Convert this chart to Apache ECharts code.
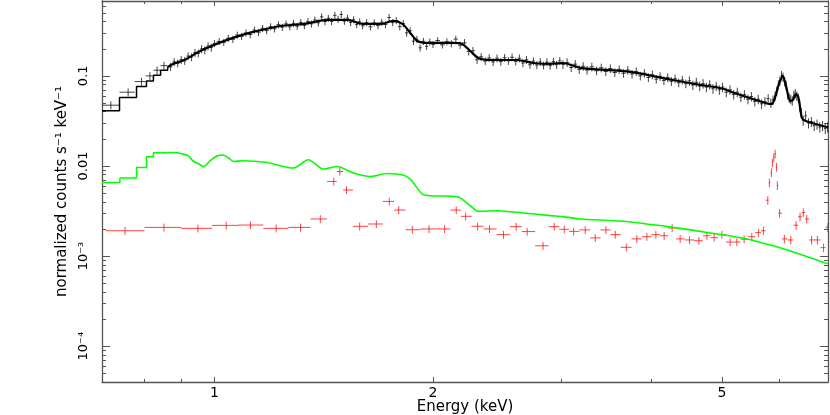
<!DOCTYPE html>
<html>
<head>
<meta charset="utf-8">
<script src="https://cdn.jsdelivr.net/npm/echarts@6/dist/echarts.min.js"></script>
<style>
  html, body { margin: 0; padding: 0; background: #fff; }
  #chart { width: 830px; height: 415px; }
</style>
</head>
<body>
<div id="chart"></div>
<script>
// axis ranges and ticks
var xRange = [0.7, 7.0];
var yRange = [4e-5, 0.678];
var xMajorTicks = [1, 2, 5];
var xTickLabels = ['1', '2', '5'];
var xMinorTicks = [0.8, 0.9, 3, 4, 6];
var yMajorTicks = [1e-4, 1e-3, 1e-2, 1e-1];
var yTickLabels = ['10\u207B\u2074', '10\u207B\u00B3', '0.01', '0.1'];
var yMinorTicks = [5e-5, 6e-5, 7e-5, 8e-5, 9e-5,
  2e-4, 3e-4, 4e-4, 5e-4, 6e-4, 7e-4, 8e-4, 9e-4,
  2e-3, 3e-3, 4e-3, 5e-3, 6e-3, 7e-3, 8e-3, 9e-3,
  0.02, 0.03, 0.04, 0.05, 0.06, 0.07, 0.08, 0.09,
  0.2, 0.3, 0.4, 0.5, 0.6];

// black spectrum: [energy keV, normalized counts]
var blackCounts = [
  [0.72,0.0473],[0.7605,0.0659],[0.7935,0.0865],[0.815,0.100],[0.8335,0.1156],[0.852,0.130],
  [0.87,0.126],[0.88,0.143],[0.89,0.138],[0.90,0.151],[0.91,0.147],[0.92,0.166],[0.93,0.162],[0.94,0.181],
  [0.95,0.178],[0.96,0.199],[0.97,0.193],[0.98,0.214],[0.99,0.206],[1.00,0.229],
  [1.015,0.241],[1.03,0.236],[1.045,0.262],[1.06,0.255],[1.075,0.284],[1.09,0.275],[1.105,0.300],[1.12,0.288],
  [1.135,0.322],[1.15,0.305],[1.165,0.337],[1.18,0.318],[1.195,0.352],[1.21,0.333],[1.225,0.371],[1.24,0.347],
  [1.255,0.378],[1.27,0.351],[1.285,0.383],[1.30,0.356],[1.315,0.392],[1.33,0.362],[1.345,0.401],[1.36,0.378],
  [1.375,0.418],[1.39,0.388],[1.405,0.452],[1.42,0.401],[1.435,0.436],[1.45,0.402],[1.465,0.470],[1.48,0.425],
  [1.495,0.480],[1.51,0.405],[1.525,0.438],[1.54,0.392],[1.555,0.421],[1.57,0.372],[1.585,0.398],[1.60,0.360],
  [1.62,0.392],[1.64,0.351],[1.66,0.388],[1.68,0.362],[1.70,0.395],[1.72,0.372],[1.74,0.445],[1.76,0.391],
  [1.78,0.412],[1.80,0.353],[1.82,0.381],[1.84,0.300],[1.86,0.318],[1.88,0.243],[1.90,0.255],[1.92,0.205],
  [1.94,0.242],[1.96,0.213],[1.98,0.238],[2.00,0.224],
  [2.03,0.247],[2.06,0.221],[2.09,0.240],[2.12,0.228],[2.15,0.256],[2.18,0.219],[2.21,0.233],[2.24,0.187],
  [2.27,0.190],[2.30,0.151],[2.33,0.163],[2.36,0.146],[2.39,0.158],[2.42,0.143],[2.45,0.157],[2.48,0.144],
  [2.51,0.159],[2.54,0.147],[2.57,0.161],[2.60,0.145],[2.63,0.157],[2.66,0.139],[2.69,0.151],[2.72,0.133],
  [2.75,0.146],[2.78,0.132],[2.81,0.143],[2.84,0.131],[2.87,0.142],[2.90,0.130],[2.93,0.144],[2.96,0.133],
  [2.99,0.147],[3.02,0.134],
  [3.06,0.141],[3.10,0.124],[3.14,0.135],[3.18,0.118],[3.22,0.128],[3.26,0.116],[3.31,0.126],[3.36,0.114],
  [3.41,0.123],[3.46,0.112],[3.51,0.121],[3.56,0.109],[3.61,0.118],[3.66,0.107],[3.71,0.116],[3.76,0.105],
  [3.81,0.112],[3.86,0.100],[3.91,0.107],[3.96,0.096],[4.01,0.103],[4.06,0.092],[4.11,0.099],[4.16,0.089],
  [4.21,0.096],[4.26,0.087],[4.31,0.093],[4.36,0.084],[4.41,0.090],[4.46,0.082],[4.51,0.088],[4.56,0.079],
  [4.61,0.085],[4.66,0.077],[4.71,0.082],[4.76,0.075],[4.81,0.080],[4.86,0.072],[4.91,0.077],[4.96,0.070],
  [5.01,0.075],
  [5.07,0.066],[5.13,0.070],[5.19,0.062],[5.25,0.066],[5.31,0.058],[5.37,0.062],[5.43,0.055],[5.49,0.059],
  [5.55,0.052],[5.61,0.055],[5.67,0.049],[5.73,0.052],[5.79,0.056],[5.84,0.050],[5.88,0.054],[5.92,0.060],
  [5.95,0.068],[5.98,0.080],[6.01,0.088],[6.04,0.101],[6.07,0.097],[6.10,0.087],[6.13,0.079],[6.16,0.062],
  [6.19,0.057],[6.22,0.055],[6.25,0.053],[6.28,0.061],[6.31,0.064],[6.34,0.060],[6.37,0.057],[6.40,0.046],
  [6.43,0.039],[6.47,0.032],[6.52,0.036],[6.58,0.030],[6.64,0.031],[6.70,0.028],[6.76,0.029],[6.82,0.027],
  [6.88,0.028],[6.94,0.026],[6.99,0.027]
];
// relative 1-sigma error, by energy band start
var blackErrBands = [[0.7, 0.10], [1.0, 0.09], [2.2, 0.10], [3.0, 0.11], [4.5, 0.12], [6.4, 0.13]];

// red spectrum
var redCounts = [
  [0.753,0.00191],[0.852,0.00208],[0.949,0.00203],[1.038,0.00219],[1.121,0.00221],[1.216,0.00203],
  [1.314,0.00208],[1.399,0.00258],[1.460,0.00673],[1.488,0.00869],[1.520,0.00541],[1.585,0.00214],
  [1.671,0.00227],[1.741,0.00404],[1.794,0.00324],[1.873,0.00196],[1.975,0.00200],[2.075,0.00200],
  [2.153,0.00324],[2.218,0.00276],[2.304,0.00214],[2.393,0.00200],[2.501,0.00173],[2.604,0.00212],
  [2.696,0.00187],[2.835,0.00130],[2.938,0.00212],[3.033,0.00198],[3.124,0.00188],[3.241,0.00195],
  [3.346,0.00159],[3.461,0.00195],[3.565,0.00173],[3.691,0.00125],[3.818,0.00155],[3.941,0.00164],
  [4.055,0.00173],[4.163,0.00168],[4.270,0.00205],[4.380,0.00155],[4.511,0.00151],[4.648,0.00148],
  [4.767,0.00168],[4.878,0.00160],[4.999,0.00173],[5.132,0.00143],[5.243,0.00143],[5.365,0.00154],
  [5.497,0.00164],[5.614,0.00182],[5.704,0.00191],[5.783,0.00417],[5.813,0.00651],[5.850,0.00841],
  [5.868,0.01085],[5.895,0.01242],[5.919,0.01366],[5.944,0.00972],[5.961,0.00608],[6.004,0.00299],
  [6.095,0.00155],[6.220,0.00151],[6.326,0.00220],[6.406,0.00273],[6.473,0.00305],[6.544,0.00258],
  [6.645,0.00151],[6.768,0.00151],[6.902,0.00124],[6.995,0.00209]
];
var redErrBands = [[0.7, 0.10], [5.75, 0.11]];

// folded model for black spectrum (wide bins, then fine bins)
var blackModelSteps = [[0.70,0.0409],[0.740,0.0575],[0.781,0.0761],[0.806,0.0880],[0.824,0.1018],[0.843,0.1156],[0.862,0.125]];
var blackModel = [
  [0.862,0.125],[0.875,0.135],[0.907,0.149],[0.956,0.189],[1.009,0.228],[1.063,0.266],[1.121,0.302],
  [1.194,0.340],[1.233,0.358],[1.326,0.377],[1.435,0.418],[1.524,0.418],[1.604,0.377],[1.693,0.377],
  [1.764,0.407],[1.815,0.377],[1.861,0.300],[1.903,0.244],[1.965,0.232],[2.133,0.232],[2.194,0.226],
  [2.251,0.189],[2.309,0.158],[2.399,0.150],[2.613,0.150],[2.749,0.139],[2.901,0.136],[3.022,0.139],
  [3.190,0.123],[3.738,0.111],[4.283,0.090],[4.667,0.0795],[5.019,0.072],[5.18,0.0653],[5.767,0.0494],
  [5.857,0.0486],[5.918,0.0575],[5.980,0.0775],[6.064,0.100],[6.127,0.0775],[6.205,0.0528],[6.258,0.0538],
  [6.327,0.0627],[6.373,0.058],[6.442,0.0345],[6.511,0.0317],[7.0,0.0267]
];

// green model component
var greenSteps = [[0.70,0.00656],[0.741,0.00734],[0.781,0.00962],[0.806,0.01265],[0.824,0.0140],[0.843,0.0140]];
var greenModel = [
  [0.843,0.0140],[0.880,0.0141],[0.906,0.01355],[0.921,0.0130],[0.933,0.0115],[0.956,0.0103],[0.966,0.0098],
  [0.987,0.0115],[1.010,0.0130],[1.026,0.01323],[1.045,0.01233],[1.062,0.01122],[1.096,0.01142],[1.183,0.01093],
  [1.233,0.01005],[1.284,0.00948],[1.347,0.01172],[1.413,0.00924],[1.477,0.00987],[1.554,0.00834],[1.640,0.00765],
  [1.730,0.00826],[1.820,0.00793],[1.861,0.00716],[1.879,0.0065],[1.933,0.00488],[1.983,0.00468],[2.160,0.00455],
  [2.251,0.00362],[2.309,0.00313],[2.452,0.00319],[2.663,0.00301],[2.901,0.00281],[3.022,0.00274],[3.190,0.00258],
  [3.656,0.00243],[4.283,0.00208],[4.771,0.00183],[5.417,0.00155],[5.882,0.00130],[6.405,0.00105],[7.0,0.00082]
];

var axisColor = '#555';
var font = 'DejaVu Sans';

function bandFor(bands, e) {
  var rel = bands[0][1];
  bands.forEach(function (b) { if (e >= b[0]) rel = b[1]; });
  return rel;
}

// bin edges half way (in log) to the neighbours, y error from the band table
function withErrors(points, bands) {
  return points.map(function (p, i) {
    var prev = points[i - 1], next = points[i + 1];
    var lo = prev ? Math.sqrt(prev[0] * p[0]) : null;
    var hi = next ? Math.sqrt(p[0] * next[0]) : null;
    if (lo === null) lo = p[0] * p[0] / hi;
    if (hi === null) hi = p[0] * p[0] / lo;
    var rel = bandFor(bands, p[0]);
    return [p[0], p[1], lo, hi, p[1] * (1 - rel), p[1] * (1 + rel)];
  });
}

function crossItem(color) {
  return function (params, api) {
    var c = api.coord([api.value(0), api.value(1)]);
    var l = api.coord([api.value(2), api.value(1)]);
    var r = api.coord([api.value(3), api.value(1)]);
    var b = api.coord([api.value(0), api.value(4)]);
    var t = api.coord([api.value(0), api.value(5)]);
    var st = { stroke: color, lineWidth: 1 };
    return {
      type: 'group',
      children: [
        { type: 'line', shape: { x1: l[0], y1: c[1], x2: r[0], y2: c[1] }, style: st },
        { type: 'line', shape: { x1: c[0], y1: b[1], x2: c[0], y2: t[1] }, style: st }
      ]
    };
  };
}

function axis(dim, position, ticks, tickLen, labels) {
  var range = dim === 'x' ? xRange : yRange;
  var a = {
    type: 'log',
    logBase: 10,
    position: position,
    min: range[0],
    max: range[1],
    splitLine: { show: false },
    axisLine: { show: !!labels, lineStyle: { color: axisColor, width: 1.3 } },
    axisTick: { show: true, inside: true, length: tickLen, customValues: ticks,
      lineStyle: { color: axisColor, width: 1 } },
    axisLabel: { show: false }
  };
  if (labels && labels.length) {
    a.axisLabel = {
      show: true,
      customValues: ticks,
      color: '#000',
      fontFamily: font,
      fontSize: 13,
      formatter: function (v) {
        var best = 0;
        ticks.forEach(function (t, i) {
          if (Math.abs(Math.log10(t) - Math.log10(v)) < Math.abs(Math.log10(ticks[best]) - Math.log10(v))) best = i;
        });
        return labels[best];
      }
    };
  }
  return a;
}

var xBottom = axis('x', 'bottom', xMajorTicks, 5, xTickLabels);
xBottom.axisLabel.margin = 4;
xBottom.axisLabel.fontSize = 14;
xBottom.name = 'Energy (keV)';
xBottom.nameLocation = 'middle';
xBottom.nameGap = 18;
xBottom.nameMoveOverlap = false;
xBottom.nameTextStyle = { fontFamily: font, fontSize: 15, color: '#000', verticalAlign: 'top', lineHeight: 15 };

var yLeft = axis('y', 'left', yMajorTicks, 8, yTickLabels);
yLeft.axisLabel.rotate = 90;
yLeft.axisLabel.margin = 12;
yLeft.name = 'normalized counts s\u207B\u00B9 keV\u207B\u00B9';
yLeft.nameLocation = 'middle';
yLeft.nameGap = 32;
yLeft.nameMoveOverlap = false;
yLeft.nameTextStyle = { fontFamily: font, fontSize: 15, color: '#000' };

var option = {
  animation: false,
  backgroundColor: '#fff',
  grid: { left: 102, right: 2, top: 1, bottom: 33, containLabel: false, outerBoundsMode: 'none' },
  xAxis: [
    xBottom,
    axis('x', 'bottom', xMinorTicks, 3),
    axis('x', 'top', xMajorTicks, 5, []),
    axis('x', 'top', xMinorTicks, 3)
  ],
  yAxis: [
    yLeft,
    axis('y', 'left', yMinorTicks, 4),
    axis('y', 'right', yMajorTicks, 8, []),
    axis('y', 'right', yMinorTicks, 4)
  ],
  series: [
    {
      type: 'custom', name: 'black data', clip: true, z: 2,
      renderItem: crossItem('rgba(20,20,20,0.8)'),
      encode: { x: 0, y: 1 },
      data: withErrors(blackCounts, blackErrBands)
    },
    {
      type: 'custom', name: 'red data', clip: true, z: 2,
      renderItem: crossItem('rgba(255,20,20,0.8)'),
      encode: { x: 0, y: 1 },
      data: withErrors(redCounts, redErrBands)
    },
    {
      type: 'line', name: 'green steps', step: 'end', symbol: 'none', z: 3,
      lineStyle: { color: '#00ff00', width: 1.5 },
      data: greenSteps
    },
    {
      type: 'line', name: 'green model', smooth: 0.25, symbol: 'none', z: 3,
      lineStyle: { color: '#00ff00', width: 1.6 },
      data: greenModel
    },
    {
      type: 'line', name: 'black steps', step: 'end', symbol: 'none', z: 4,
      lineStyle: { color: '#000', width: 1.5 },
      data: blackModelSteps
    },
    {
      type: 'line', name: 'black model', smooth: 0.25, symbol: 'none', z: 4,
      lineStyle: { color: '#000', width: 2.2 },
      data: blackModel
    }
  ]
};

var chart = echarts.init(document.getElementById('chart'));
chart.setOption(option);
</script>
</body>
</html>
